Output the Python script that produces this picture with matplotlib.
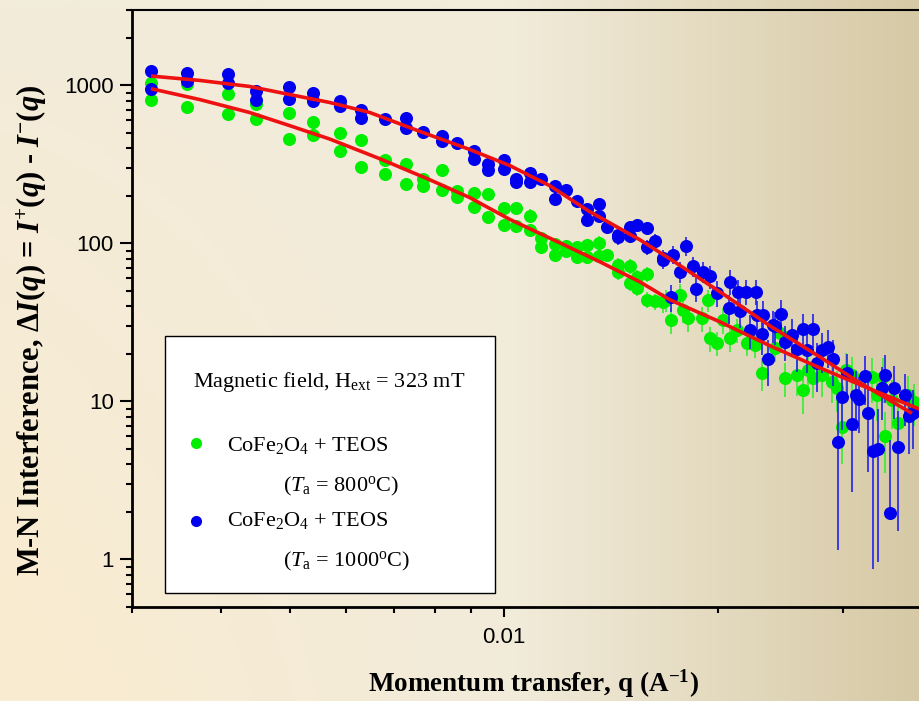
import numpy as np
import matplotlib
matplotlib.use("Agg")
import matplotlib.pyplot as plt
from matplotlib import rcParams
from matplotlib.ticker import FuncFormatter, LogLocator, NullFormatter
from matplotlib.patches import Rectangle
from matplotlib.lines import Line2D

rcParams["mathtext.fontset"] = "custom"
rcParams["mathtext.rm"] = "Liberation Serif"
rcParams["mathtext.it"] = "Liberation Serif:italic"
rcParams["mathtext.bf"] = "Liberation Serif:bold"
rcParams["mathtext.bfit"] = "Liberation Serif:italic:bold"

GREEN = "#00EE00"
BLUE = "#0000EE"
RED = "#EE1111"

# --- CoFe2O4 + TEOS, Ta = 800 C (green) ---
q_green = [0.00319, 0.00319, 0.00359, 0.00359, 0.00409, 0.00409, 0.00449, 0.00449,
           0.00499, 0.00499, 0.00539, 0.00539, 0.00589, 0.00589, 0.00629, 0.00629,
           0.00680, 0.00680, 0.00729, 0.00729, 0.00770, 0.00770, 0.00820, 0.00820,
           0.00860, 0.00860, 0.00908, 0.00908, 0.00950, 0.00950,
           0.01000, 0.01000, 0.01040, 0.01040, 0.01090, 0.01090, 0.01130, 0.01130,
           0.01180, 0.01180, 0.01223, 0.01223, 0.01268, 0.01268, 0.01310, 0.01310,
           0.01361, 0.01361, 0.01398, 0.01449, 0.01449, 0.01505, 0.01505,
           0.01541, 0.01541, 0.01590, 0.01590, 0.01632, 0.01677,
           0.01695, 0.01722, 0.01770, 0.01788, 0.01818, 0.01899, 0.01940, 0.01950,
           0.01994, 0.02037, 0.02081, 0.02127, 0.02197, 0.02257, 0.02312, 0.02408,
           0.02447, 0.02487, 0.02584, 0.02635, 0.02684, 0.02727, 0.02803, 0.02894,
           0.02942, 0.02990, 0.03032, 0.03089, 0.03296, 0.03350, 0.03422, 0.03441,
           0.03517, 0.03593, 0.03711, 0.03780]
I_green = [1040, 807, 1015, 728, 886, 655, 766, 609,
           671, 455, 585, 482, 501, 387, 450, 305,
           336, 275, 320, 238, 257, 230, 293, 217,
           214, 197, 209, 169, 204, 148,
           168, 130, 168, 128, 150, 121, 108, 94.9,
           99.6, 84.8, 96.7, 89.0, 94.9, 82.0, 98.1, 82.0,
           100.6, 82.7, 84.8, 73.3, 65.8, 72.2, 56.1,
           61.2, 52.2, 64.2, 44.0, 42.9, 42.3,
           44.0, 32.8, 47.3, 38.0, 33.7, 33.7, 44.0, 25.1,
           23.4, 32.8, 25.1, 28.4, 23.4, 22.8, 15.2, 21.7,
           27.0, 14.1, 14.8, 11.8, 15.8, 14.0, 14.7, 13.3,
           12.1, 6.91, 15.8, 14.7, 14.3, 11.0, 14.3, 6.03,
           10.2, 7.33, 11.0, 9.96]
dI_green = [0, 0, 0, 0, 0, 0, 0, 0,
            0, 0, 0, 0, 0, 0, 0, 0,
            0, 0, 0, 0, 0, 0, 0, 0,
            0, 0, 0, 0, 0, 0,
            16, 12, 16, 12, 14, 11, 10, 9,
            9, 8, 9, 8, 9, 8, 9, 8,
            10, 8, 8, 8, 7, 8, 6,
            7, 6, 7, 5, 5, 6,
            7, 6, 8, 6.5, 6, 6, 7, 4.5,
            4, 6, 4.5, 5, 4, 4, 3.5, 4,
            5, 3.5, 4, 3.5, 4, 3.5, 4, 3.5,
            3.5, 2.9, 4.5, 4.5, 4.5, 3.5, 4.5, 2.5,
            3.5, 2.5, 3.5, 3]

# --- CoFe2O4 + TEOS, Ta = 1000 C (blue) ---
q_blue = [0.00319, 0.00319, 0.00359, 0.00359, 0.00409, 0.00409, 0.00449, 0.00449,
          0.00499, 0.00499, 0.00539, 0.00539, 0.00589, 0.00589, 0.00629, 0.00629,
          0.00680, 0.00729, 0.00729, 0.00770, 0.00820, 0.00820, 0.00860,
          0.00908, 0.00908, 0.00950, 0.00950,
          0.01000, 0.01000, 0.01040, 0.01040, 0.01090, 0.01090, 0.01130,
          0.01180, 0.01180, 0.01223, 0.01268, 0.01310, 0.01310, 0.01361, 0.01361,
          0.01398, 0.01449, 0.01449, 0.01505, 0.01505, 0.01541, 0.01590, 0.01590,
          0.01632, 0.01677, 0.01677, 0.01722, 0.01732, 0.01770, 0.01808, 0.01848,
          0.01864, 0.01905, 0.01953, 0.01998, 0.02077, 0.02081, 0.02137, 0.02149,
          0.02192, 0.02221, 0.02269, 0.02273, 0.02312, 0.02316, 0.02357, 0.02394,
          0.02407, 0.02453, 0.02487, 0.02542, 0.02584, 0.02635, 0.02675, 0.02722,
          0.02757, 0.02803, 0.02863, 0.02904, 0.02957, 0.02990, 0.03045, 0.03089,
          0.03133, 0.03166, 0.03225, 0.03260, 0.03313, 0.03367, 0.03405, 0.03441,
          0.03498, 0.03543, 0.03593, 0.03672, 0.03714, 0.03772]
I_blue = [1232, 943, 1191, 1065, 1174, 1040, 920, 803,
          981, 823, 899, 795, 795, 739, 697, 624,
          609, 624, 534, 506, 477, 443, 433,
          387, 343, 320, 290,
          336, 296, 256, 244, 280, 244, 256,
          230, 191, 219, 185, 164, 140, 178, 150,
          127, 113.5, 109, 127, 112, 131, 125, 94.9,
          103, 80.8, 78.8, 45.7, 84.8, 66.4, 96.7, 71.5,
          51.4, 66.4, 61.8, 48.5, 38.9, 57.4, 49.6, 37.1,
          49.6, 28.4, 49.6, 35.3, 26.8, 35.3, 18.5, 30.5,
          29.8, 35.7, 23.9, 26.4, 21.4, 28.7, 21.2, 28.8,
          17.4, 21.2, 22.2, 18.5, 5.55, 10.6, 15.1, 7.19,
          11.0, 10.3, 14.5, 8.48, 4.87, 4.97, 12.1, 14.8,
          1.98, 12.2, 5.12, 11.0, 8.08, 8.41]
dI_blue = [0, 0, 0, 0, 0, 0, 0, 0,
           0, 0, 0, 0, 0, 0, 0, 0,
           0, 0, 0, 0, 0, 0, 0,
           0, 0, 0, 0,
           30, 27, 23, 22, 25, 22, 23,
           21, 17, 20, 17, 15, 13, 16, 14,
           12, 11, 11, 12, 11, 12, 12, 10,
           11, 10, 10, 9, 11, 10, 13, 10,
           9, 10, 10, 9, 8, 10, 9, 8,
           9, 7, 9, 8, 7, 8, 6, 7,
           7, 8, 6, 7, 6, 7, 6, 7,
           6, 6, 6, 6, 4.4, 4, 5, 4.5,
           4.5, 4, 5, 4.9, 4.0, 4.0, 4.5, 5,
           3.7, 4.5, 3.6, 4, 3.4, 3.4]

# --- fitted curves (red) ---
q_fit_blue = [0.00319, 0.00373, 0.00439, 0.00499, 0.00569, 0.00648, 0.00769, 0.00896,
              0.01020, 0.01161, 0.01321, 0.01554, 0.01713, 0.02015, 0.02370, 0.02787,
              0.03173, 0.03755]
I_fit_blue = [1146, 1076, 985, 877, 780, 674, 504, 393,
              311, 232, 159, 105.6, 80.0, 49.4, 30.1, 19.1,
              13.1, 8.41]
q_fit_green = [0.00319, 0.00373, 0.00439, 0.00499, 0.00569, 0.00669, 0.00787, 0.00896,
               0.01020, 0.01199, 0.01365, 0.01554, 0.01713, 0.02015, 0.02370, 0.02787,
               0.03278, 0.03854]
I_fit_green = [953, 815, 674, 558, 458, 344, 253, 195,
               142, 101, 76.6, 57.2, 44.0, 31.9, 22.5, 16.3,
               12.0, 8.91]

# on a log axis a bar that would cross zero is drawn upward only
lo_blue = [0 if e >= v else e for v, e in zip(I_blue, dI_blue)]

W, H = 920, 701
fig = plt.figure(figsize=(W / 100, H / 100), dpi=100)

# background gradient (slide style)
nh, nw = 140, 400
fx = np.linspace(0, 1, nw)[None, :, None]
fy = np.linspace(0, 1, nh)[:, None, None]
tl, bl = np.array([243, 236, 218]), np.array([250, 235, 207])
mid = np.array([242, 236, 219])
right = np.array([214, 201, 165])
left = tl + (bl - tl) * fy
img = np.where(fx <= 0.55,
               left + (mid - left) * (fx / 0.55),
               mid + (right - mid) * ((fx - 0.55) / 0.45) + 0 * fy)
bg = fig.add_axes([0, 0, 1, 1])
bg.imshow(img / 255.0, aspect="auto", extent=(0, 1, 0, 1), origin="upper")
bg.set_axis_off()

ax = fig.add_axes([132 / W, 1 - 607 / H, (W - 132) / W, (607 - 10) / H])
ax.set_facecolor("none")

ax.errorbar(q_green, I_green, yerr=dI_green, fmt="o", ms=9.4, mew=0,
            color=GREEN, ecolor="#33EE33", elinewidth=1.2, capsize=4, capthick=1.2,
            zorder=2)
ax.errorbar(q_blue, I_blue, yerr=[lo_blue, dI_blue], fmt="o", ms=9.4, mew=0,
            color=BLUE, ecolor="#2222EE", elinewidth=1.2, capsize=4, capthick=1.2,
            zorder=3)
ax.plot(q_fit_green, I_fit_green, color=RED, lw=2.6, zorder=4, solid_capstyle="butt")
ax.plot(q_fit_blue, I_fit_blue, color=RED, lw=2.6, zorder=4, solid_capstyle="butt")

ax.set_xscale("log")
ax.set_yscale("log")
ax.set_xlim(0.003, 0.03854)
ax.set_ylim(0.5, 3000)

fmt = FuncFormatter(lambda v, p: f"{v:g}")
for axis in (ax.xaxis, ax.yaxis):
    axis.set_major_locator(LogLocator(base=10))
    axis.set_minor_locator(LogLocator(base=10, subs=range(2, 10)))
    axis.set_major_formatter(fmt)
    axis.set_minor_formatter(NullFormatter())

ax.tick_params(which="both", direction="out", width=1.5, color="black",
               labelsize=16, labelfontfamily="Liberation Sans")
ax.tick_params(axis="y", which="major", length=9, pad=4)
ax.tick_params(axis="y", which="minor", length=4.3)
ax.tick_params(axis="x", which="major", length=7.5, pad=7)
ax.tick_params(axis="x", which="minor", length=4)

ax.spines["right"].set_visible(False)
ax.spines["left"].set_linewidth(2)
ax.spines["bottom"].set_linewidth(2)
ax.spines["top"].set_linewidth(1.5)

serif = "Liberation Serif"
fig.text(533 / W, 1 - 692 / H, r"Momentum transfer, q (A$^{\mathbf{-1}}$)",
         ha="center", va="baseline", fontsize=19.5, fontweight="bold", family=serif)
fig.text(32 / W, 1 - 330 / H,
         r"M-N Interference, Δ$\mathbfit{I}$($\mathbfit{q}$) = "
         r"$\mathbfit{I}^{\mathbf{+}}$($\mathbfit{q}$) - $\mathbfit{I}^{\mathbf{-}}$($\mathbfit{q}$)",
         rotation=90, ha="center", va="center", fontsize=22, fontweight="bold",
         family=serif)

# legend box
fig.add_artist(Rectangle((165 / W, 1 - 593 / H), 330 / W, 257 / H,
                         transform=fig.transFigure, facecolor="white",
                         edgecolor="black", lw=1.0, zorder=5))
lt = dict(fontsize=16, family=serif, va="baseline", ha="left", zorder=6)
fig.text(193 / W, 1 - 387 / H, r"Magnetic field, H$_\mathrm{ext}$ = 323 mT", **lt)
fig.text(227 / W, 1 - 451 / H, r"CoFe$_2$O$_4$ + TEOS", **lt)
fig.text(283 / W, 1 - 491 / H, r"($T_\mathrm{a}$ = 800$^\mathrm{o}$C)", **lt)
fig.text(227 / W, 1 - 526 / H, r"CoFe$_2$O$_4$ + TEOS", **lt)
fig.text(283 / W, 1 - 566 / H, r"($T_\mathrm{a}$ = 1000$^\mathrm{o}$C)", **lt)
for yy, c in ((443, GREEN), (521, BLUE)):
    fig.add_artist(Line2D([196 / W], [1 - yy / H], marker="o", ms=8, mew=0,
                          color=c, transform=fig.transFigure, zorder=6))

fig.savefig("out.png", dpi=100)
